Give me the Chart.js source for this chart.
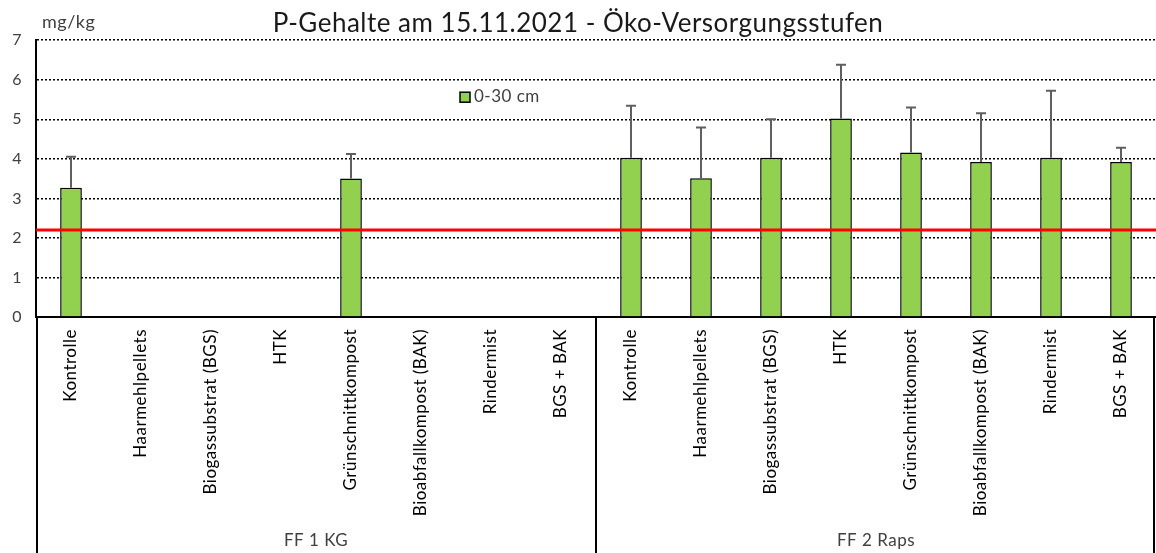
<!DOCTYPE html>
<html>
<head>
<meta charset="utf-8">
<script src="https://cdn.jsdelivr.net/npm/chart.js@4.4.0/dist/chart.umd.min.js"></script>
<style>
html, body { margin: 0; padding: 0; background: #fff; }
#wrap { width: 1156px; height: 553px; position: relative; }
</style>
</head>
<body>
<div id="wrap"><canvas id="myChart"></canvas></div>
<script>

const treatments = ["Kontrolle", "Haarmehlpellets", "Biogassubstrat (BGS)", "HTK",
  "Grünschnittkompost", "Bioabfallkompost (BAK)", "Rindermist", "BGS + BAK"]
const groups = ["FF 1 KG", "FF 2 Raps"]
const labels = groups.flatMap(() => treatments)

const pValues = [3.27, null, null, null, 3.50, null, null, null,
  4.03, 3.51, 4.03, 5.02, 4.16, 3.92, 4.03, 3.92]
const pErrors = [0.78, null, null, null, 0.62, null, null, null,
  1.31, 1.28, 0.97, 1.36, 1.14, 1.23, 1.69, 0.36]
const threshold = 2.2
const yTicks = [0, 1, 2, 3, 4, 5, 6, 7]

const font = "Lato"

// error bars, red limit line, legend, unit and group labels
const extras = {
  id: "extras",
  beforeDraw(chart) {
    // the original text is set a little loosely
    chart.ctx.letterSpacing = "0.5px"
  },
  afterDatasetsDraw(chart) {
    const {ctx, chartArea: area, scales: {x, y}} = chart
    ctx.save()

    // error bars (upward only)
    ctx.strokeStyle = "#5f5f5f"
    ctx.lineWidth = 2
    pValues.forEach((v, i) => {
      if (v == null || pErrors[i] == null) return
      const px = x.getPixelForValue(i)
      const y0 = y.getPixelForValue(v)
      const y1 = y.getPixelForValue(v + pErrors[i])
      ctx.beginPath()
      ctx.moveTo(px, y0)
      ctx.lineTo(px, y1)
      ctx.moveTo(px - 5, y1)
      ctx.lineTo(px + 5, y1)
      ctx.stroke()
    })

    // red line
    const ry = y.getPixelForValue(threshold)
    ctx.strokeStyle = "#ff0000"
    ctx.lineWidth = 3
    ctx.beginPath()
    ctx.moveTo(area.left, ry)
    ctx.lineTo(area.right, ry)
    ctx.stroke()

    // legend inside the plot
    const ds = chart.data.datasets[0]
    const lx = area.left + 424, ly = area.top + 52
    ctx.fillStyle = ds.backgroundColor
    ctx.fillRect(lx, ly, 10, 10)
    ctx.strokeStyle = "#000"
    ctx.lineWidth = 1.5
    ctx.strokeRect(lx, ly, 10, 10)
    ctx.fillStyle = "#404040"
    ctx.font = "17px " + font
    ctx.textBaseline = "alphabetic"
    ctx.textAlign = "left"
    ctx.fillText(ds.label, lx + 14, 102)

    // unit label
    ctx.font = "18px " + font
    ctx.fillText("mg/kg", area.left + 6, 28)

    // group separators and group names
    const step = x.getPixelForValue(1) - x.getPixelForValue(0)
    const bottom = chart.height
    ctx.strokeStyle = "#000"
    ctx.lineWidth = 2
    const bounds = [area.left + 1]
    groups.forEach((g, gi) => {
      const last = (gi + 1) * treatments.length - 1
      bounds.push(gi === groups.length - 1 ? area.right - 2 : x.getPixelForValue(last) + step / 2)
    })
    bounds.forEach(bx => {
      ctx.beginPath()
      ctx.moveTo(bx, area.bottom)
      ctx.lineTo(bx, bottom)
      ctx.stroke()
    })
    ctx.fillStyle = "#404040"
    ctx.font = "17px " + font
    ctx.textAlign = "center"
    ctx.textBaseline = "middle"
    groups.forEach((g, gi) => {
      const a = x.getPixelForValue(gi * treatments.length)
      const b = x.getPixelForValue((gi + 1) * treatments.length - 1)
      ctx.fillText(g, (a + b) / 2, 541)
    })
    ctx.restore()
  }
}

const data = {
  labels: labels,
  datasets: [{
    label: "0-30 cm",
    data: pValues,
    backgroundColor: "#92D050",
    borderColor: "#000",
    borderWidth: 1.5,
    categoryPercentage: 1,
    barPercentage: 0.31
  }]
}

const options = {
  responsive: true,
  maintainAspectRatio: false,
  animation: false,
  layout: { padding: { left: 0, right: 0, top: 0, bottom: 0 } },
  plugins: {
    legend: { display: false },
    tooltip: { enabled: false },
    title: {
      display: true,
      text: "P-Gehalte am 15.11.2021 - Öko-Versorgungsstufen",
      color: "#1a1a1a",
      font: { family: font, size: 26, weight: "normal" },
      padding: { top: 8, bottom: 1 }
    }
  },
  scales: {
    x: {
      grid: { display: false, drawTicks: false },
      border: { display: true, color: "#000", width: 2 },
      ticks: {
        color: "#000",
        font: { family: font, size: 17 },
        maxRotation: 90,
        minRotation: 90,
        autoSkip: false,
        padding: 12
      },
      afterFit: s => { s.height = 236 }
    },
    y: {
      min: 0,
      max: 7,
      afterBuildTicks: s => { s.ticks = yTicks.map(v => ({value: v})) },
      grid: { color: "#000", lineWidth: 1.5, drawTicks: false },
      border: { display: true, color: "#000", width: 2, dash: [2, 2] },
      ticks: {
        color: "#404040",
        font: { family: font, size: 16 },
        padding: 14
      },
      afterFit: s => { s.width = 36 }
    }
  }
}

const config = {
  type: "bar",
  data: data,
  options: options,
  plugins: [extras]
}

const chart = new Chart(document.querySelector("#myChart"), config)
</script>
</body>
</html>
